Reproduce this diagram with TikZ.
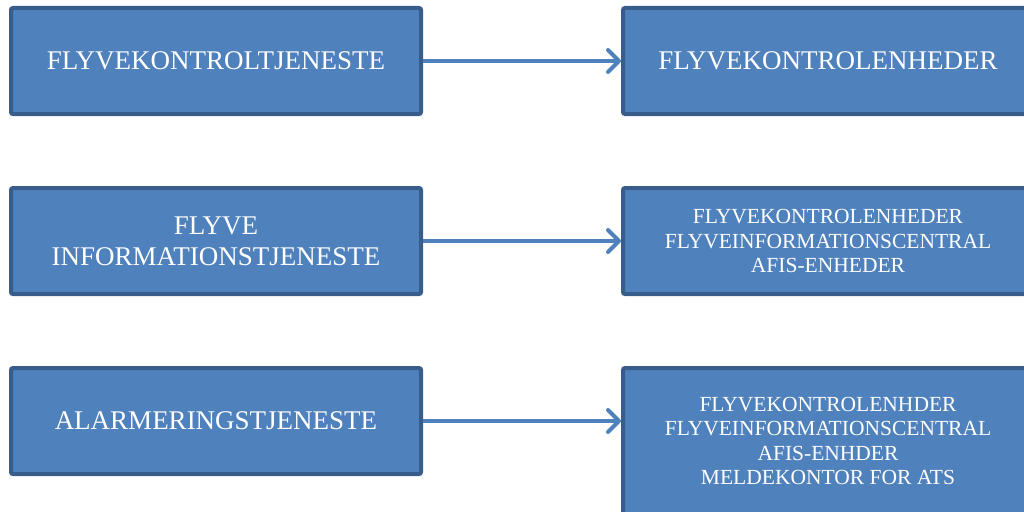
\documentclass[tikz,border=0pt]{standalone}
\usepackage{fontspec}
\setmainfont{Liberation Serif}
\usepackage{xcolor}
\usetikzlibrary{arrows.meta}
\definecolor{boxblue}{HTML}{4F81BD}
\definecolor{boxline}{HTML}{385D8A}

\begin{document}
\begin{tikzpicture}[x=1pt, y=-1pt,
	box/.style={rectangle, rounded corners=2pt, draw=boxline, line width=4pt, fill=boxblue, text=white, align=center, minimum width=410pt, minimum height=106pt, font=\fontsize{27}{31}\selectfont},
	small/.style={font=\fontsize{21.5}{24.5}\selectfont},
	link/.style={draw=boxblue, line width=4pt, -{Straight Barb[length=11pt, width=22pt, round]}}]
	\useasboundingbox (0,0) rectangle (1024,511);
	\node[box](a) at (216,61){FLYVEKONTROLTJENESTE};
	\node[box](b) at (216,241){FLYVE\\INFORMATIONSTJENESTE};
	\node[box](c) at (216,421){ALARMERINGSTJENESTE};
	\node[box](d) at (828,61){FLYVEKONTROLENHEDER};
	\node[box, small](e) at (828,241){FLYVEKONTROLENHEDER\\FLYVEINFORMATIONSCENTRAL\\AFIS-ENHEDER};
	\node[box, small, minimum height=146pt](f) at (828,441){FLYVEKONTROLENHDER\\FLYVEINFORMATIONSCENTRAL\\AFIS-ENHDER\\MELDEKONTOR FOR ATS};
	\draw[link] (a) -- (a -| d.west);
	\draw[link] (b) -- (b -| e.west);
	\draw[link] (c) -- (c -| f.west);
\end{tikzpicture}
\end{document}
